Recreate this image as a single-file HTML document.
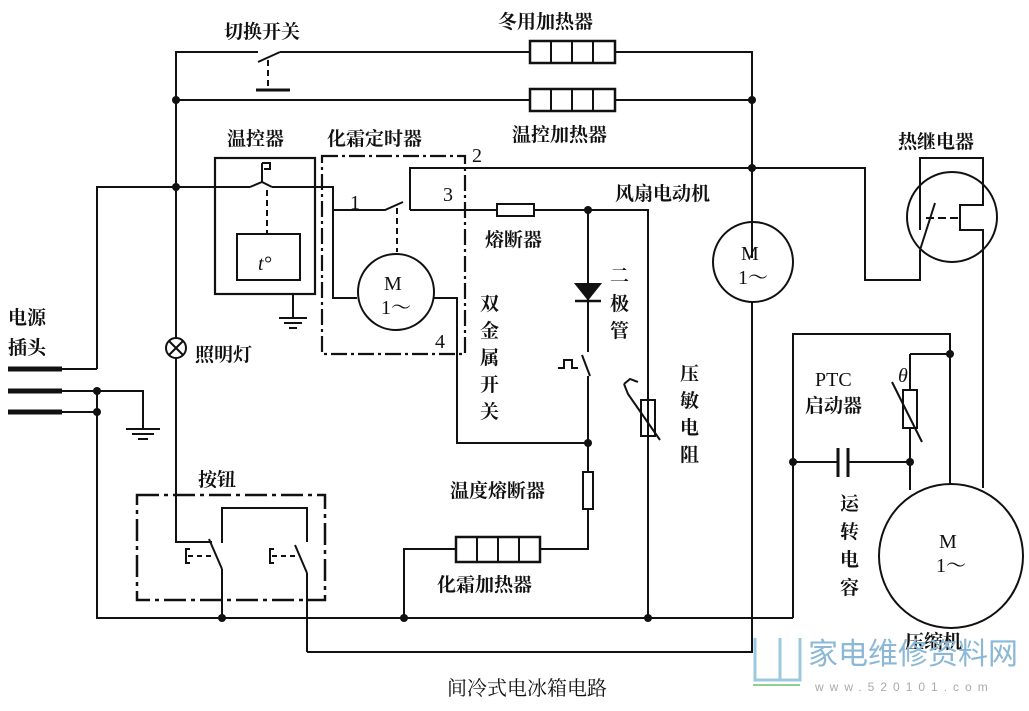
<!DOCTYPE html>
<html><head><meta charset="utf-8"><style>
html,body{margin:0;padding:0;background:#fff;}
svg{display:block}
text{font-family:"Liberation Serif","Noto Serif CJK SC","Noto Sans CJK SC",serif;font-weight:bold;fill:#111}
</style></head><body>
<svg width="1029" height="711" viewBox="0 0 1029 711" xmlns="http://www.w3.org/2000/svg">
<g stroke="#111" stroke-width="2" fill="none">
<polyline points="176,187 176,52 258,52"/>
<line x1="258" y1="62" x2="280" y2="52"/>
<line x1="280" y1="52" x2="530" y2="52"/>
<line x1="268" y1="60" x2="268" y2="88" stroke-dasharray="6,4"/>
<line x1="256" y1="90" x2="290" y2="90" stroke-width="3"/>
<rect x="530" y="41" width="85" height="22" stroke-width="2.5"/>
<line x1="551" y1="41" x2="551" y2="63"/><line x1="572" y1="41" x2="572" y2="63"/><line x1="593" y1="41" x2="593" y2="63"/>
<polyline points="615,52 752,52 752,258"/>
<line x1="176" y1="100" x2="530" y2="100"/>
<rect x="530" y="89" width="85" height="22" stroke-width="2.5"/>
<line x1="551" y1="89" x2="551" y2="111"/><line x1="572" y1="89" x2="572" y2="111"/><line x1="593" y1="89" x2="593" y2="111"/>
<line x1="615" y1="100" x2="752" y2="100"/>
<polyline points="97,369 97,187 250,187"/>
<polyline points="250,187 262,182 272,187"/>
<line x1="262" y1="182" x2="262" y2="163"/>
<path d="M262,163 h8 v6 h-6"/>
<polyline points="272,187 333,187 333,298 357,298"/>
<line x1="267" y1="190" x2="267" y2="233" stroke-dasharray="6,4"/>
<rect x="237" y="234" width="63" height="46"/>
<rect x="215" y="158" width="100" height="136" stroke-width="2.2"/>
<polyline points="293,294 293,318"/>
<line x1="279" y1="318" x2="307" y2="318"/><line x1="284" y1="323" x2="302" y2="323"/><line x1="289" y1="328" x2="297" y2="328"/>
<rect x="322" y="156" width="143" height="198" stroke-dasharray="16,4,3,4" stroke-width="2.2"/>
<polyline points="333,210 385,210 403,202"/>
<polyline points="410,210 410,168 752,168"/>
<line x1="397" y1="208" x2="397" y2="252" stroke-dasharray="6,4"/>
<polyline points="410,210 497,210"/>
<rect x="497" y="204" width="37" height="12"/>
<polyline points="534,210 648,210 648,618"/>
<circle cx="396" cy="292" r="38"/>
<polyline points="434,298 457,298 457,443 588,443"/>
<polyline points="588,210 588,352"/>
<polygon points="576,284 600,284 588,299" fill="#111"/>
<line x1="575" y1="301" x2="601" y2="301" stroke-width="2.5"/>
<line x1="582" y1="355" x2="590" y2="376"/>
<path d="M558,368 h6 v-8 h8 v8 h6"/>
<polyline points="588,376 588,472"/>
<rect x="583" y="472" width="10" height="37"/>
<polyline points="588,509 588,549 540,549"/>
<rect x="456" y="537" width="84" height="25" stroke-width="2.5"/>
<line x1="477" y1="537" x2="477" y2="562"/><line x1="498" y1="537" x2="498" y2="562"/><line x1="519" y1="537" x2="519" y2="562"/>
<polyline points="456,549 404,549 404,618"/>
<rect x="641" y="400" width="14" height="36"/>
<polyline points="624,384 628,394 660,440"/>
<path d="M624,384 l6,-5 l8,3"/>
<circle cx="753" cy="262" r="40"/>
<polyline points="752,302 752,652 307,652"/>
<polyline points="752,168 865,168 865,280 920,280 920,250"/>
<circle cx="952" cy="217" r="45"/>
<polyline points="920,250 935,203"/><polyline points="920,230 920,158 983,158 983,205 960,205 960,230 983,230 983,488"/>
<line x1="926" y1="218" x2="958" y2="218" stroke-dasharray="8,4"/>
<polyline points="793,618 793,334 950,334 950,484"/>
<polyline points="910,354 950,354"/>
<polyline points="910,354 910,390"/>
<rect x="903" y="390" width="14" height="38"/>
<polyline points="892,382 922,442"/>
<polyline points="910,428 910,490"/>
<line x1="793" y1="462" x2="838" y2="462"/><line x1="848" y1="462" x2="910" y2="462"/>
<line x1="838" y1="448" x2="838" y2="477" stroke-width="3"/><line x1="848" y1="448" x2="848" y2="477" stroke-width="3"/>
<circle cx="951" cy="556" r="72"/>
<polyline points="176,187 176,338"/>
<circle cx="176" cy="348" r="10"/>
<line x1="169" y1="341" x2="183" y2="355"/><line x1="183" y1="341" x2="169" y2="355"/>
<polyline points="176,358 176,542 212,542"/>
<rect x="137" y="495" width="188" height="105" stroke-dasharray="22,5,4,5" stroke-width="2.5"/>
<line x1="209" y1="539" x2="222" y2="569"/>
<polyline points="222,569 222,618"/>
<polyline points="222,543 222,508 307,508 307,542"/>
<line x1="295" y1="545" x2="307" y2="573"/>
<polyline points="307,573 307,652"/>
<path d="M190,549 h-4 v14 h4"/><line x1="188" y1="556" x2="212" y2="556" stroke-dasharray="5,4"/>
<path d="M274,549 h-4 v14 h4"/><line x1="272" y1="556" x2="298" y2="556" stroke-dasharray="5,4"/>
<line x1="8" y1="369" x2="62" y2="369" stroke-width="5"/>
<line x1="8" y1="391" x2="62" y2="391" stroke-width="5"/>
<line x1="8" y1="412" x2="62" y2="412" stroke-width="5"/>
<line x1="62" y1="369" x2="97" y2="369"/>
<polyline points="62,391 143,391 143,428"/>
<line x1="62" y1="412" x2="97" y2="412"/>
<line x1="126" y1="429" x2="160" y2="429"/><line x1="132" y1="434" x2="154" y2="434"/><line x1="138" y1="439" x2="148" y2="439"/>
<polyline points="97,391 97,618 793,618"/>
</g>
<g fill="#111">
<circle cx="176" cy="100" r="4"/><circle cx="752" cy="100" r="4"/><circle cx="176" cy="187" r="4"/>
<circle cx="752" cy="168" r="4"/><circle cx="588" cy="210" r="4"/><circle cx="588" cy="443" r="4"/>
<circle cx="950" cy="354" r="4"/><circle cx="910" cy="462" r="4"/><circle cx="793" cy="462" r="4"/>
<circle cx="97" cy="391" r="4"/><circle cx="97" cy="412" r="4"/>
<circle cx="222" cy="618" r="4"/><circle cx="404" cy="618" r="4"/><circle cx="648" cy="618" r="4"/>
</g>
<g font-size="19">
<text x="224" y="38">切换开关</text>
<text x="498" y="28">冬用加热器</text>
<text x="512" y="141">温控加热器</text>
<text x="227" y="145">温控器</text>
<text x="327" y="145">化霜定时器</text>
<text x="898" y="148">热继电器</text>
<text x="615" y="200">风扇电动机</text>
<text x="485" y="246">熔断器</text>
<text x="8" y="324">电源</text>
<text x="8" y="354">插头</text>
<text x="195" y="361">照明灯</text>
<text x="198" y="486">按钮</text>
<text x="450" y="497">温度熔断器</text>
<text x="437" y="591">化霜加热器</text>
<text x="805" y="412">启动器</text>
<text x="905" y="648">压缩机</text>
<text x="480" y="310">双</text><text x="480" y="337">金</text><text x="480" y="364">属</text><text x="480" y="391">开</text><text x="480" y="418">关</text>
<text x="610" y="282">二</text><text x="610" y="310">极</text><text x="610" y="337">管</text>
<text x="680" y="380">压</text><text x="680" y="407">敏</text><text x="680" y="434">电</text><text x="680" y="461">阻</text>
<text x="840" y="510">运</text><text x="840" y="538">转</text><text x="840" y="566">电</text><text x="840" y="594">容</text>
</g>
<g font-size="20">
<text x="815" y="386" style="font-weight:normal">PTC</text>
<text x="384" y="290" style="font-weight:normal">M</text><text x="381" y="314" style="font-weight:normal">1～</text>
<text x="741" y="260" style="font-weight:normal">M</text><text x="738" y="284" style="font-weight:normal">1～</text>
<text x="939" y="548" style="font-weight:normal">M</text><text x="936" y="572" style="font-weight:normal">1～</text>
<text x="258" y="270" style="font-weight:normal;font-style:italic">t°</text>
<text x="472" y="162" style="font-weight:normal">2</text>
<text x="443" y="201" style="font-weight:normal">3</text>
<text x="350" y="209" style="font-weight:normal">1</text>
<text x="435" y="348" style="font-weight:normal">4</text>
<text x="898" y="382" style="font-weight:normal;font-style:italic">θ</text>
<text x="447" y="695" style="font-weight:normal">间冷式电冰箱电路</text>
</g>
<g stroke="#9cc8e0" stroke-width="3" fill="none">
<path d="M755,638 v42 h45 v-42"/><path d="M780,638 v42"/>
</g>
<line x1="753" y1="685" x2="800" y2="685" stroke="#8fd08f" stroke-width="2"/>
<text x="808" y="664" font-size="30" style="font-family:'Noto Sans CJK SC',sans-serif;font-weight:normal;fill:#8ab8d6">家电维修资料网</text>
<text x="815" y="691" font-size="12" style="font-family:'Liberation Sans',sans-serif;font-weight:normal;fill:#aaa;letter-spacing:6px">www.520101.com</text>
</svg>
</body></html>
